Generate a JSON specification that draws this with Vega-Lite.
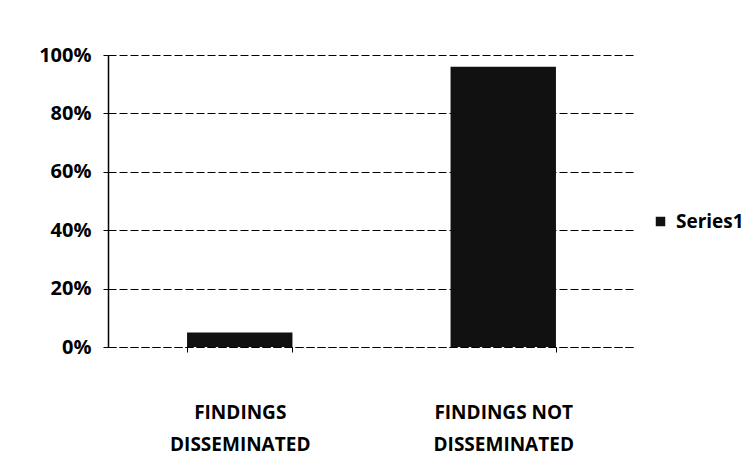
{
  "$schema": "https://vega.github.io/schema/vega-lite/v6.json",
  "autosize": "none",
  "width": 527,
  "height": 292,
  "padding": {"left": 108, "top": 55, "right": 119, "bottom": 118},
  "background": "white",
  "data": {"values": [
    {"category": "FINDINGS DISSEMINATED", "share": 0.05, "series": "Series1"},
    {"category": "FINDINGS NOT DISSEMINATED", "share": 0.96, "series": "Series1"}
  ]},
  "mark": {"type": "bar", "color": "#111111"},
  "encoding": {
    "x": {
      "field": "category", "type": "nominal", "sort": null,
      "scale": {"paddingInner": 0.6, "paddingOuter": 0.3},
      "axis": {
        "title": null, "labelAngle": 0, "tickBand": "extent",
        "labelExpr": "[slice(datum.label, 0, lastindexof(datum.label, ' ')), slice(datum.label, lastindexof(datum.label, ' ') + 1)]",
        "labelFont": "Open Sans", "labelFontWeight": "bold", "labelFontSize": 19, "labelColor": "#000000",
        "labelLineHeight": 32, "labelPadding": 51, "labelBaseline": "top",
        "domainColor": "#000000", "domainDash": [8, 3], "domainWidth": 1,
        "tickColor": "#000000", "tickSize": 5
      }
    },
    "y": {
      "field": "share", "type": "quantitative",
      "scale": {"domain": [0, 1]},
      "axis": {
        "title": null, "format": ".0%", "values": [0, 0.2, 0.4, 0.6, 0.8, 1],
        "labelFont": "Open Sans", "labelFontWeight": "bold", "labelFontSize": 20, "labelColor": "#000000",
        "labelPadding": 12,
        "grid": true, "gridColor": "#000000", "gridDash": [8, 3], "gridWidth": 1,
        "domainColor": "#000000", "domainWidth": 1.5,
        "tickColor": "#000000", "tickSize": 5
      }
    },
    "fill": {
      "field": "series", "type": "nominal",
      "scale": {"range": ["#111111"]},
      "legend": {
        "title": null, "orient": "none", "legendX": 543, "legendY": 157,
        "symbolType": "square", "symbolSize": 90, "labelOffset": 6,
        "labelFont": "Open Sans", "labelFontWeight": "bold", "labelFontSize": 19, "labelColor": "#000000"
      }
    }
  },
  "config": {"view": {"stroke": null}}
}
